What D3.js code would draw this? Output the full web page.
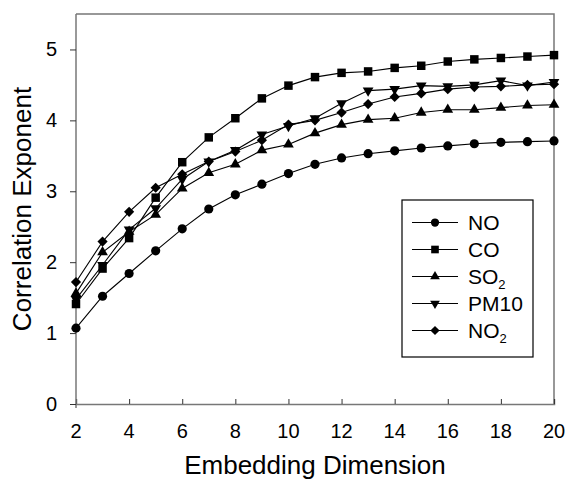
<!DOCTYPE html>
<html>
<head>
<meta charset="utf-8">
<script src="https://cdn.jsdelivr.net/npm/d3@7"></script>
<style>
  body { margin: 0; background: #fff; }
  text { font-family: "Liberation Sans", Arial, sans-serif; }
</style>
</head>
<body>
<div id="chart"></div>
<script>
// Correlation exponent vs embedding dimension

const dims = [2, 3, 4, 5, 6, 7, 8, 9, 10, 11, 12, 13, 14, 15, 16, 17, 18, 19, 20];
const no   = [1.07, 1.52, 1.84, 2.16, 2.47, 2.75, 2.95, 3.10, 3.25, 3.38, 3.47, 3.53, 3.57, 3.61, 3.64, 3.67, 3.69, 3.70, 3.71];
const co   = [1.41, 1.91, 2.34, 2.91, 3.41, 3.76, 4.03, 4.31, 4.49, 4.61, 4.67, 4.69, 4.74, 4.77, 4.83, 4.86, 4.88, 4.90, 4.92];
const so2  = [1.56, 2.14, 2.43, 2.67, 3.04, 3.26, 3.38, 3.58, 3.66, 3.82, 3.94, 4.01, 4.03, 4.11, 4.15, 4.15, 4.18, 4.21, 4.22];
const pm10 = [1.48, 1.96, 2.46, 2.76, 3.17, 3.42, 3.58, 3.80, 3.92, 4.03, 4.24, 4.42, 4.44, 4.49, 4.48, 4.50, 4.56, 4.49, 4.54];
const no2  = [1.72, 2.29, 2.71, 3.05, 3.24, 3.42, 3.56, 3.72, 3.94, 4.00, 4.11, 4.23, 4.33, 4.38, 4.44, 4.47, 4.48, 4.50, 4.51];
const xTicks = [2, 4, 6, 8, 10, 12, 14, 16, 18, 20];
const yTicks = [0, 1, 2, 3, 4, 5];

const series = [
    {name: "NO", sub: "", values: no, shape: "circle"},
    {name: "CO", sub: "", values: co, shape: "square"},
    {name: "SO", sub: "2", values: so2, shape: "triangle"},
    {name: "PM10", sub: "", values: pm10, shape: "down"},
    {name: "NO", sub: "2", values: no2, shape: "diamond"}
];

const width = 567, height = 481,
    margin = ({top: 14, right: 13, bottom: 77, left: 76});

let svg = d3.select("#chart")
    .append("svg")
    .attr("width", width)
    .attr("height", height);

let x = d3.scaleLinear()
    .domain([2, 20])
    .range([margin.left, width - margin.right]);

let y = d3.scaleLinear()
    .domain([0, 5.5])
    .range([height - margin.bottom, margin.top]);

// frame (top and right)
svg.append("path")
    .attr("d", `M${x(2)},${y(5.5)}H${x(20)}V${y(0)}`)
    .attr("fill", "none")
    .attr("stroke", "#777")
    .attr("stroke-width", 1.5);

// x axis, ticks pointing into the plot
let xAxis = svg.append("g")
    .attr("transform", `translate(0,${y(0)})`)
    .call(d3.axisTop(x).tickValues(xTicks).tickSize(5).tickFormat(""));
xAxis.select(".domain").attr("stroke", "#777").attr("stroke-width", 1.5);
xAxis.selectAll(".tick line").attr("stroke", "#333");

svg.append("g").selectAll("text")
    .data(xTicks)
    .join("text")
    .attr("x", d => x(d))
    .attr("y", y(0) + 34)
    .attr("text-anchor", "middle")
    .style("font-size", "20px")
    .text(d => d);

// y axis
let yAxis = svg.append("g")
    .attr("transform", `translate(${x(2)},0)`)
    .call(d3.axisLeft(y).tickValues(yTicks).tickSize(6).tickPadding(13).tickFormat(d3.format("d")));
yAxis.select(".domain").attr("stroke", "#777").attr("stroke-width", 1.5)
    .attr("d", `M0,${y(5.5)}V${y(0) + 4}`);
yAxis.selectAll(".tick line").attr("stroke", "#333");
yAxis.selectAll(".tick text")
    .style("font-size", "20px")
    .style("font-family", "Liberation Sans, Arial, sans-serif")
    .attr("fill", "#000");

// axis titles
svg.append("text")
    .attr("x", x(11))
    .attr("y", height - 7)
    .attr("text-anchor", "middle")
    .style("font-size", "26px")
    .text("Embedding Dimension");

svg.append("text")
    .attr("transform", `translate(31,${y(2.75)}) rotate(-90)`)
    .attr("text-anchor", "middle")
    .style("font-size", "26px")
    .text("Correlation Exponent");

// marker shapes
function marker(shape, s) {
    if (shape === "circle") return d3.symbol(d3.symbolCircle, 66 * s * s)();
    if (shape === "square") return d3.symbol(d3.symbolSquare, 72 * s * s)();
    if (shape === "triangle") return d3.symbol(d3.symbolTriangle, 50 * s * s)();
    if (shape === "down") return d3.symbol(d3.symbolTriangle, 50 * s * s)();
    return d3.symbol(d3.symbolSquare, 52 * s * s)();
}
function rot(shape) {
    if (shape === "down") return " rotate(180)";
    if (shape === "diamond") return " rotate(45)";
    return "";
}

let line = d3.line()
    .x((d, i) => x(dims[i]))
    .y(d => y(d));

// draw series
let g = svg.selectAll(".series")
    .data(series)
    .join("g")
    .attr("class", "series");

g.append("path")
    .attr("d", d => line(d.values))
    .attr("fill", "none")
    .attr("stroke", "#000")
    .attr("stroke-width", 1.1);

g.each(function(s) {
    d3.select(this).selectAll(".pt")
        .data(s.values)
        .join("path")
        .attr("class", "pt")
        .attr("d", marker(s.shape, 1))
        .attr("transform", (d, i) => `translate(${x(dims[i])},${y(d)})` + rot(s.shape))
        .attr("fill", "#000");
});

// legend
const lg = svg.append("g").attr("transform", "translate(402,200)");
lg.append("rect")
    .attr("width", 131)
    .attr("height", 157)
    .attr("fill", "#fff")
    .attr("stroke", "#000")
    .attr("stroke-width", 1.2);

let item = lg.selectAll(".item")
    .data(series)
    .join("g")
    .attr("class", "item")
    .attr("transform", (d, i) => `translate(0,${22.5 + i * 27})`);

item.append("line")
    .attr("x1", 10).attr("x2", 56)
    .attr("stroke", "#000")
    .attr("stroke-width", 1.1);

item.append("path")
    .attr("d", d => marker(d.shape, 0.9))
    .attr("transform", d => "translate(33,0)" + rot(d.shape))
    .attr("fill", "#000");

let lt = item.append("text")
    .attr("x", 66)
    .attr("y", 7)
    .style("font-size", "21px");
lt.append("tspan").text(d => d.name);
lt.append("tspan")
    .attr("dy", 5)
    .style("font-size", "13px")
    .text(d => d.sub);
</script>
</body>
</html>
